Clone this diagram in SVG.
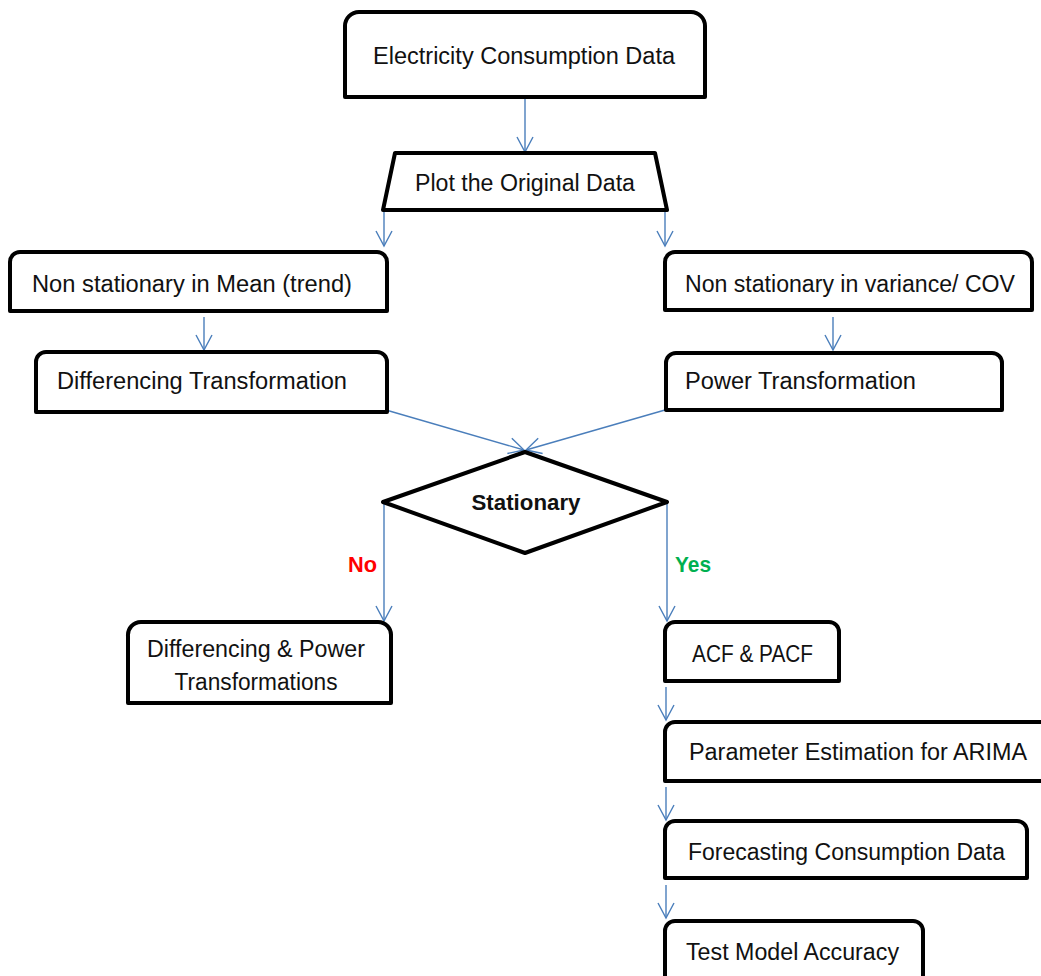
<svg xmlns="http://www.w3.org/2000/svg" width="1041" height="976" viewBox="0 0 1041 976">
<style>
.box{fill:#fff;stroke:#000;stroke-width:4;stroke-linejoin:round}
.t{font-family:"Liberation Sans",Arial,sans-serif;font-size:23.5px;fill:#111}
.b{font-family:"Liberation Sans",Arial,sans-serif;font-size:22px;font-weight:bold;fill:#111}
.c{stroke:#4a7ebb;stroke-width:1.4;fill:none}
</style>
<defs>
<marker id="arr" markerUnits="userSpaceOnUse" markerWidth="24" markerHeight="24" viewBox="-16 -12 24 24" refX="0" refY="0" orient="auto">
<path d="M-15,-8 L0,0 L-15,8" fill="none" stroke="#4a7ebb" stroke-width="1.4"/>
</marker>
</defs>
<rect width="1041" height="976" fill="#fff"/>
<g id="connectors" class="c" marker-end="url(#arr)">
<line x1="525" y1="98" x2="525" y2="152"/>
<line x1="384" y1="212" x2="384" y2="246"/>
<line x1="665" y1="212" x2="665" y2="246"/>
<line x1="204" y1="317" x2="204" y2="350"/>
<line x1="833" y1="317" x2="833" y2="350"/>
<line x1="386" y1="410" x2="524" y2="450"/>
<line x1="665" y1="410" x2="526" y2="450"/>
<line x1="384" y1="503" x2="384" y2="621"/>
<line x1="667" y1="503" x2="667" y2="621"/>
<line x1="666" y1="687" x2="666" y2="720"/>
<line x1="666" y1="787" x2="666" y2="820"/>
<line x1="666" y1="885" x2="666" y2="918"/>
</g>
<g id="n1">
<path class="box" d="M345,97 V26 A14,14 0 0 1 359,12 H691 A14,14 0 0 1 705,26 V97 Z"/>
<text class="t" x="524" y="64" text-anchor="middle" textLength="302" lengthAdjust="spacingAndGlyphs">Electricity Consumption Data</text>
</g>
<g id="n2">
<polygon class="box" points="395,153 655,153 667,210 383,210"/>
<text class="t" x="525" y="191" text-anchor="middle" textLength="220" lengthAdjust="spacingAndGlyphs">Plot the Original Data</text>
</g>
<g id="n3">
<path class="box" d="M10,311 V262 A10,10 0 0 1 20,252 H377 A10,10 0 0 1 387,262 V311 Z"/>
<text class="t" x="32" y="292" textLength="320" lengthAdjust="spacingAndGlyphs">Non stationary in Mean (trend)</text>
</g>
<g id="n4">
<path class="box" d="M36,412 V362 A10,10 0 0 1 46,352 H377 A10,10 0 0 1 387,362 V412 Z"/>
<text class="t" x="57" y="389" textLength="290" lengthAdjust="spacingAndGlyphs">Differencing Transformation</text>
</g>
<g id="n5">
<path class="box" d="M665,310 V262 A10,10 0 0 1 675,252 H1022 A10,10 0 0 1 1032,262 V310 Z"/>
<text class="t" x="685" y="292" textLength="330" lengthAdjust="spacingAndGlyphs">Non stationary in variance/ COV</text>
</g>
<g id="n6">
<path class="box" d="M666,410 V363 A10,10 0 0 1 676,353 H992 A10,10 0 0 1 1002,363 V410 Z"/>
<text class="t" x="685" y="389" textLength="231" lengthAdjust="spacingAndGlyphs">Power Transformation</text>
</g>
<g id="n7">
<polygon class="box" points="525,452 667,502 525,553 383,502"/>
<text class="b" x="526" y="510" text-anchor="middle" textLength="109" lengthAdjust="spacingAndGlyphs">Stationary</text>
</g>
<g id="labels">
<text class="b" x="348" y="572" fill="#ff0000" style="fill:#ff0000" textLength="29" lengthAdjust="spacingAndGlyphs">No</text>
<text class="b" x="675" y="572" style="fill:#00b050" textLength="36" lengthAdjust="spacingAndGlyphs">Yes</text>
</g>
<g id="n8">
<path class="box" d="M128,703 V636 A13,13 0 0 1 141,622 H378 A13,13 0 0 1 391,636 V703 Z"/>
<text class="t" x="256" y="657" text-anchor="middle" textLength="218" lengthAdjust="spacingAndGlyphs">Differencing &amp; Power</text>
<text class="t" x="256" y="690" text-anchor="middle" textLength="163" lengthAdjust="spacingAndGlyphs">Transformations</text>
</g>
<g id="n9">
<path class="box" d="M665,681 V632 A10,10 0 0 1 675,622 H829 A10,10 0 0 1 839,632 V681 Z"/>
<text class="t" x="692" y="662" textLength="121" lengthAdjust="spacingAndGlyphs">ACF &amp; PACF</text>
</g>
<g id="n10">
<path class="box" d="M665,781 V732 A10,10 0 0 1 675,722 H1045 A10,10 0 0 1 1055,732 V781 Z"/>
<text class="t" x="689" y="760" textLength="338" lengthAdjust="spacingAndGlyphs">Parameter Estimation for ARIMA</text>
</g>
<g id="n11">
<path class="box" d="M665,878 V831 A10,10 0 0 1 675,821 H1017 A10,10 0 0 1 1027,831 V878 Z"/>
<text class="t" x="688" y="860" textLength="317" lengthAdjust="spacingAndGlyphs">Forecasting Consumption Data</text>
</g>
<g id="n12">
<path class="box" d="M665,990 V931 A10,10 0 0 1 675,921 H913 A10,10 0 0 1 923,931 V990 Z"/>
<text class="t" x="686" y="960" textLength="213" lengthAdjust="spacingAndGlyphs">Test Model Accuracy</text>
</g>
</svg>
